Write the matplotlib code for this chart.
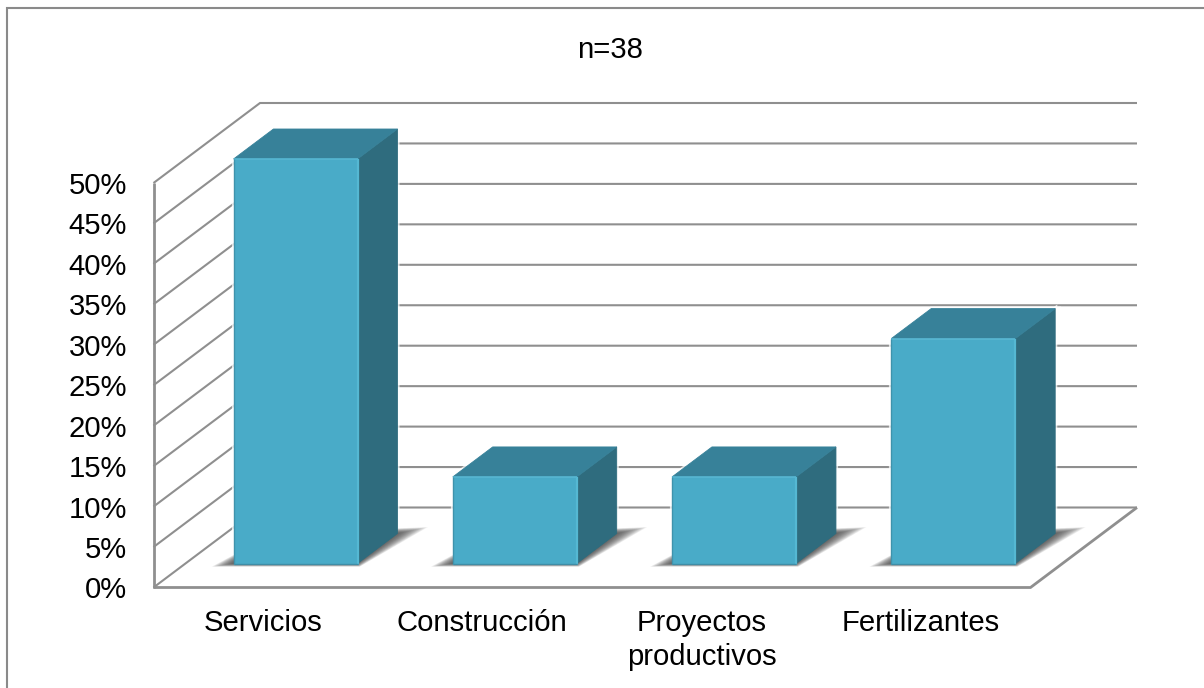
import matplotlib
matplotlib.use("Agg")
import matplotlib.pyplot as plt
from matplotlib.lines import Line2D
from matplotlib.patches import Polygon

categories = ["Servicios", "Construcción", "Proyectos\nproductivos", "Fertilizantes"]
values = [50, 10.7, 10.7, 27.8]
y_ticks = [0, 5, 10, 15, 20, 25, 30, 35, 40, 45, 50]
y_labels = [f"{v}%" for v in y_ticks]
subtitle = "n=38"

W, H = 1204, 688
plt.rcParams["font.family"] = ["Liberation Sans", "DejaVu Sans"]
fig = plt.figure(figsize=(W / 100, H / 100), dpi=100, facecolor="white")
fig.add_artist(Line2D([7 / W, 7 / W, 1.0], [0, 1 - 8 / H, 1 - 8 / H],
                      transform=fig.transFigure, color="#8a8a8a", lw=1.5,
                      solid_joinstyle="miter", solid_capstyle="butt"))

L, R, T0, T50 = 153.5, 1030.5, 587.5, 183.0
ax = fig.add_axes([L / W, 1 - T0 / H, (R - L) / W, (T0 - T50) / H])
ax.set_xlim(-0.5, len(categories) - 0.5)
ax.set_ylim(0, 50)
ax.patch.set_visible(False)
for s in ax.spines.values():
    s.set_visible(False)

DX = 106.5 / ((R - L) / 4)    # category units per full depth
DY = 80 / ((T0 - T50) / 50)   # percent units per full depth
GRID = "#8f8f8f"
FS = 21.1


def pr(x, y, d):
    return (x + d * DX, y + d * DY)


def line(pts, z=1, **kw):
    xs, ys = zip(*pts)
    kw.setdefault("color", GRID)
    kw.setdefault("lw", 1.5)
    ax.plot(xs, ys, clip_on=False, zorder=z, solid_joinstyle="miter",
            solid_capstyle="butt", **kw)


x0, x1 = -0.5, len(categories) - 0.5
for v in y_ticks:
    line([pr(x0, v, 0), pr(x0, v, 1), pr(x1, v, 1)])
line([pr(x0, 0, 0), pr(x0, 50, 0)], lw=2.0)
line([pr(x0, 0, 0), pr(x1, 0, 0), pr(x1, 0, 1)], lw=2.0)

D0, D1 = 0.3, 0.675
BW = 124 / ((R - L) / 4)
NSH = 18
SHW = 0.1
for i, v in enumerate(values):
    a, b = i - BW / 2 + 0.002, i + BW / 2 + 0.002
    front = [pr(a, 0, D0), pr(b, 0, D0), pr(b, v, D0), pr(a, v, D0)]
    side = [pr(b, 0, D0), pr(b, 0, D1), pr(b, v, D1), pr(b, v, D0)]
    top = [pr(a, v, D0), pr(b, v, D0), pr(b, v, D1), pr(a, v, D1)]
    # white halo separating the bar from the gridlines
    for poly in (front, side, top):
        ax.add_patch(Polygon(poly, closed=True, fc="none", ec="#ffffff", lw=3.0, alpha=0.75,
                             clip_on=False, zorder=2))
    # soft shadow on the floor
    for k in range(NSH, 0, -1):
        f = k / NSH
        e = f * SHW
        ax.add_patch(Polygon([pr(a - e, -0.4 * f, D0), pr(b + 0.01 * f, -0.4 * f, D0),
                              pr(b + e, 0, D1 + 0.08 * f), pr(a, 0, D1)],
                             closed=True, fc="#303030", ec="none", alpha=0.065,
                             clip_on=False, zorder=3))
    ax.add_patch(Polygon(side, closed=True, fc="#2f6c7e", ec="#2f6c7e", lw=0.6, clip_on=False, zorder=4))
    ax.add_patch(Polygon(top, closed=True, fc="#378199", ec="#378199", lw=0.6, clip_on=False, zorder=4))
    ax.add_patch(Polygon(front, closed=True, fc="#49abc8", ec="#49abc8", lw=0.6, clip_on=False, zorder=5))
    # bevel highlights
    line([pr(b, 0, D0), pr(b, v, D0)], z=6, color="#55b8d3", lw=1.6)
    line([pr(a, v, D0), pr(b, v, D0)], z=6, color="#56b6d2", lw=1.2)
    line([pr(a, 0, D0), pr(a, v, D0)], z=6, color="#3f93ac", lw=1.0)
    line([pr(a, 0, D0), pr(b, 0, D0)], z=6, color="#3f8da6", lw=1.0)

ax.set_xticks(range(len(categories)))
ax.set_xticklabels(categories, fontsize=FS, linespacing=1.26, color="black")
ax.set_yticks(y_ticks)
ax.set_yticklabels(y_labels, fontsize=FS, color="black")
ax.tick_params(axis="both", length=0)
ax.tick_params(axis="y", pad=19)
ax.tick_params(axis="x", pad=15.5)

fig.text(610 / W, 1 - 50 / H, subtitle, ha="center", va="center", fontsize=FS, color="black")

fig.savefig("out.png", dpi=100)
